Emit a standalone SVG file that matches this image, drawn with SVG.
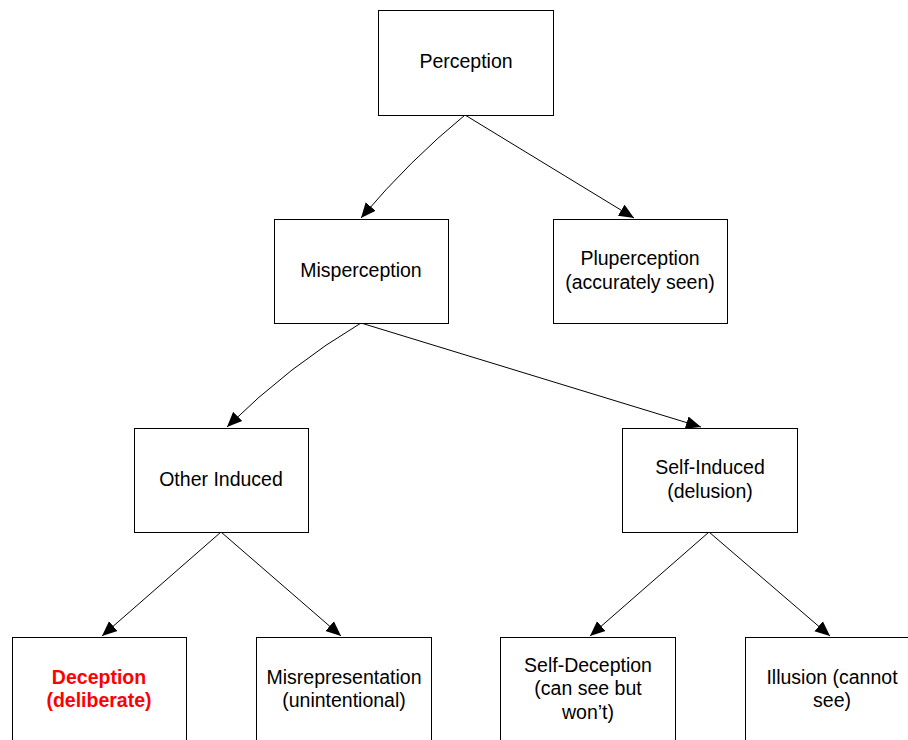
<svg xmlns="http://www.w3.org/2000/svg" width="908" height="740" viewBox="0 0 908 740">
<defs>
<marker id="arr" markerUnits="userSpaceOnUse" markerWidth="16" markerHeight="14" refX="15" refY="7" orient="auto">
<path d="M0,0.5 L15,7 L0,13.5 Z" fill="#000"/>
</marker>
<style>
.box{fill:#fff;stroke:#000;stroke-width:1}
.t{font-family:"Liberation Sans",Arial,sans-serif;font-size:19.5px;fill:#000;text-anchor:middle}
.red{fill:#ff0000;font-weight:bold}
.c{fill:none;stroke:#000;stroke-width:1;marker-end:url(#arr)}
</style>
</defs>
<rect width="908" height="740" fill="#fff"/>
<g id="connectors">
<path class="c" d="M465,115 Q410,160 361,218"/>
<path class="c" d="M465,115 L634,218"/>
<path class="c" d="M361,323 Q290,365 227,427"/>
<path class="c" d="M361,323 L701,427"/>
<path class="c" d="M221,532 L102,636"/>
<path class="c" d="M221,532 L341,636"/>
<path class="c" d="M709,532 L590,636"/>
<path class="c" d="M709,532 L830,636"/>
</g>
<g id="perception"><rect class="box" x="378.5" y="10.5" width="175" height="105"/><text class="t" x="466" y="68">Perception</text></g>
<g id="misperception"><rect class="box" x="274.5" y="219.5" width="174" height="104"/><text class="t" x="361" y="277">Misperception</text></g>
<g id="pluperception"><rect class="box" x="553.5" y="219.5" width="174" height="104"/><text class="t" x="640" y="265">Pluperception</text><text class="t" x="640" y="289">(accurately seen)</text></g>
<g id="other-induced"><rect class="box" x="134.5" y="428.5" width="174" height="104"/><text class="t" x="221" y="486">Other Induced</text></g>
<g id="self-induced"><rect class="box" x="622.5" y="428.5" width="175" height="104"/><text class="t" x="710" y="474">Self-Induced</text><text class="t" x="710" y="498">(delusion)</text></g>
<g id="deception"><rect class="box" x="12.5" y="637.5" width="174" height="110"/><text class="t red" x="99" y="684">Deception</text><text class="t red" x="99" y="707">(deliberate)</text></g>
<g id="misrepresentation"><rect class="box" x="256.5" y="637.5" width="175" height="110"/><text class="t" x="344" y="684">Misrepresentation</text><text class="t" x="344" y="707">(unintentional)</text></g>
<g id="self-deception"><rect class="box" x="500.5" y="637.5" width="175" height="110"/><text class="t" x="588" y="672">Self-Deception</text><text class="t" x="588" y="695">(can see but</text><text class="t" x="588" y="719">won’t)</text></g>
<g id="illusion"><rect class="box" x="745.5" y="637.5" width="175" height="110"/><text class="t" x="832" y="684">Illusion (cannot</text><text class="t" x="832" y="707">see)</text></g>
</svg>
